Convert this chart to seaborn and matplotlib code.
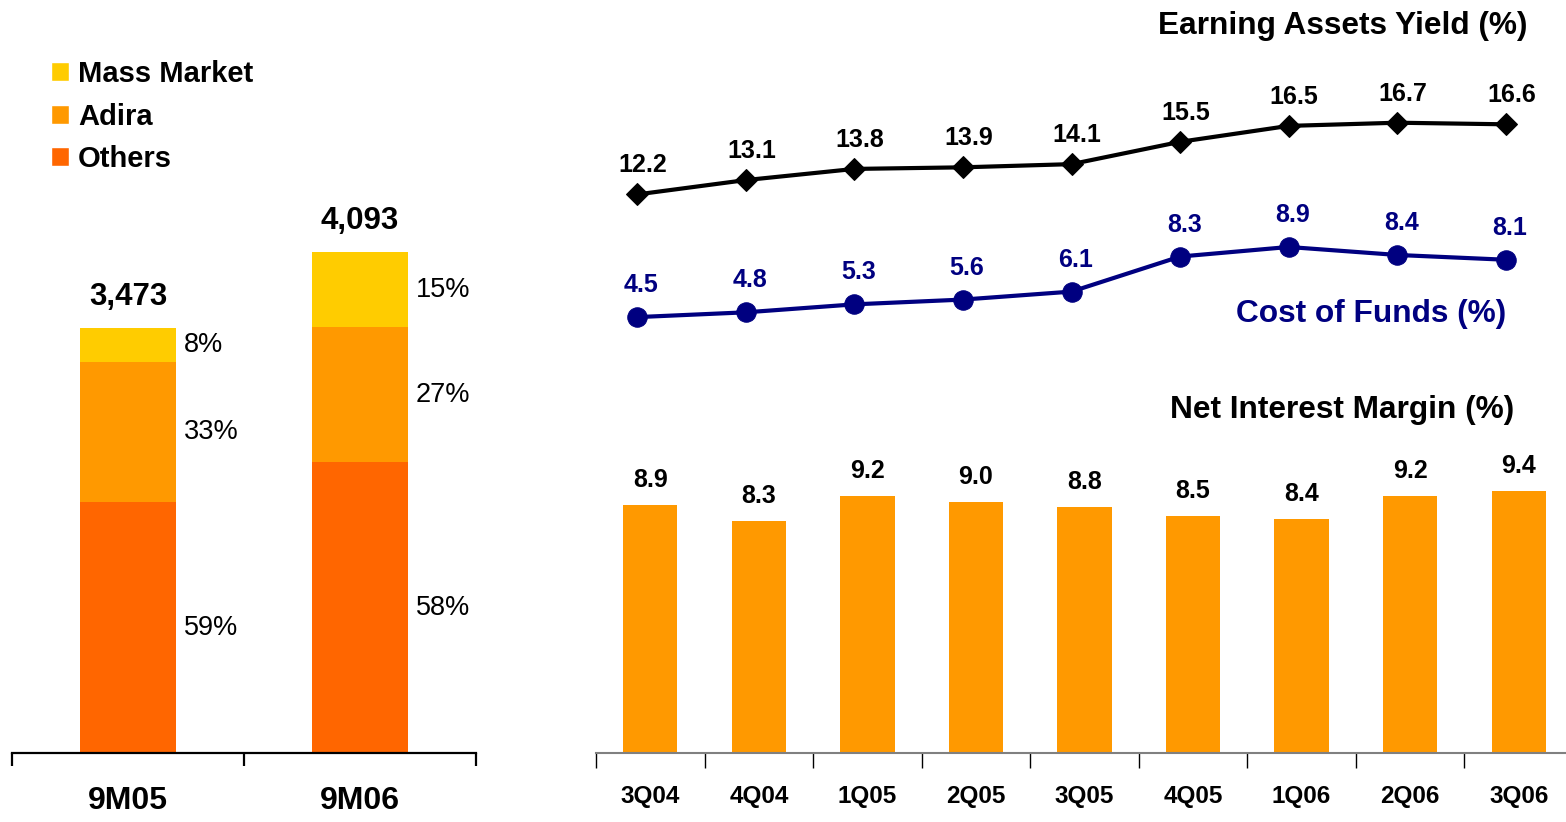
import matplotlib
matplotlib.use("Agg")
import matplotlib.pyplot as plt
import seaborn as sns
import pandas as pd
import numpy as np
from matplotlib.patches import Patch
from matplotlib.ticker import FixedLocator

# ---------------- data ----------------
periods = ["9M05", "9M06"]
totals = [3473, 4093]
share_others = [59, 58]
share_adira = [33, 27]
share_mass = [8, 15]

quarters = ["3Q04", "4Q04", "1Q05", "2Q05", "3Q05", "4Q05", "1Q06", "2Q06", "3Q06"]
earning_yield = [12.2, 13.1, 13.8, 13.9, 14.1, 15.5, 16.5, 16.7, 16.6]
cost_of_funds = [4.5, 4.8, 5.3, 5.6, 6.1, 8.3, 8.9, 8.4, 8.1]
nim = [8.9, 8.3, 9.2, 9.0, 8.8, 8.5, 8.4, 9.2, 9.4]

C_MASS = "#FFCC00"
C_ADIRA = "#FF9900"
C_OTHERS = "#FF6600"
C_NAVY = "#000080"

sns.set_style("white")
plt.rcParams["font.family"] = ["Liberation Sans", "DejaVu Sans"]
plt.rcParams["text.color"] = "black"
plt.rcParams["xtick.color"] = "black"
plt.rcParams["axes.labelcolor"] = "black"

W, H = 1566, 822
fig = plt.figure(figsize=(W / 100, H / 100), dpi=100)

def fpos(x0, y_bottom_px, w, h):
    return [x0 / W, (H - y_bottom_px) / H, w / W, h / H]

# ---------------- left stacked bars ----------------
ax_l = fig.add_axes(fpos(12, 753, 464, 612))
others_v = [t * s / 100 for t, s in zip(totals, share_others)]
adira_v = [t * s / 100 for t, s in zip(totals, share_adira)]
mass_v = [t * s / 100 for t, s in zip(totals, share_mass)]
cum_oa = [o + a for o, a in zip(others_v, adira_v)]
cum_all = [c + m for c, m in zip(cum_oa, mass_v)]

df_l = pd.DataFrame({"period": periods, "all": cum_all, "oa": cum_oa, "o": others_v})
for col, colr in [("all", C_MASS), ("oa", C_ADIRA), ("o", C_OTHERS)]:
    sns.barplot(data=df_l, x="period", y=col, color=colr, width=0.41,
                saturation=1, ax=ax_l, edgecolor="none")

ax_l.set_xlim(-0.5, 1.5)
ax_l.set_ylim(0, 5000)
ax_l.set_xlabel("")
ax_l.set_ylabel("")
ax_l.set_yticks([])
for s in ["top", "right", "left"]:
    ax_l.spines[s].set_visible(False)
ax_l.spines["bottom"].set_color("black")
ax_l.spines["bottom"].set_linewidth(1.6)
ax_l.tick_params(axis="x", which="major", length=0, pad=24)
ax_l.xaxis.set_minor_locator(FixedLocator([-0.5, 0.5, 1.5]))
ax_l.tick_params(axis="x", which="minor", bottom=True, length=9, width=1.6,
                 direction="out", color="black")
for lbl in ax_l.get_xticklabels():
    lbl.set_fontsize(23)
    lbl.set_fontweight("bold")

for i in range(len(periods)):
    ax_l.annotate(f"{totals[i]:,}", (i, cum_all[i]), xytext=(0, 22), textcoords="offset points",
                  ha="center", va="center", fontsize=22.5, fontweight="bold")
    segs = [(0, others_v[i], share_others[i]),
            (others_v[i], cum_oa[i], share_adira[i]),
            (cum_oa[i], cum_all[i], share_mass[i])]
    for lo, hi, sh in segs:
        ax_l.annotate(f"{sh}%", (i + 0.205, (lo + hi) / 2), xytext=(6, 0),
                      textcoords="offset points", ha="left", va="center", fontsize=19.5)

handles = [Patch(facecolor=C_MASS, label="Mass Market"),
           Patch(facecolor=C_ADIRA, label="Adira"),
           Patch(facecolor=C_OTHERS, label="Others")]
fig.legend(handles=handles, loc="upper left", bbox_to_anchor=(51 / W, 1 - 60 / H),
           frameon=False, prop={"size": 21, "weight": "bold"},
           handlelength=0.62, handleheight=0.62, handletextpad=0.3, labelspacing=0.5,
           borderaxespad=0, borderpad=0)

# ---------------- right line chart ----------------
ax_line = fig.add_axes(fpos(583, 341, 977, 239))
df_line = pd.DataFrame({"q": quarters, "eay": earning_yield, "cof": cost_of_funds})
sns.lineplot(data=df_line, x="q", y="eay", color="black", marker="D", markersize=11,
             linewidth=3, markeredgecolor="black", ax=ax_line, sort=False)
sns.lineplot(data=df_line, x="q", y="cof", color=C_NAVY, marker="o", markersize=14,
             linewidth=3, markeredgecolor=C_NAVY, ax=ax_line, sort=False)
ax_line.set_xlim(-0.5, 8.5)
ax_line.set_ylim(3, 18)
ax_line.axis("off")
for i in range(len(quarters)):
    ax_line.annotate(f"{earning_yield[i]:.1f}", (i, earning_yield[i]), xytext=(4, 21),
                     textcoords="offset points", ha="center", va="center",
                     fontsize=18, fontweight="bold", color="black")
    ax_line.annotate(f"{cost_of_funds[i]:.1f}", (i, cost_of_funds[i]), xytext=(3, 23),
                     textcoords="offset points", ha="center", va="center",
                     fontsize=18, fontweight="bold", color=C_NAVY)

fig.text(1528 / W, 1 - 26 / H, "Earning Assets Yield (%)", ha="right", va="center",
         fontsize=22.8, fontweight="bold", color="black")
fig.text(1506 / W, 1 - 314 / H, "Cost of Funds (%)", ha="right", va="center",
         fontsize=22.8, fontweight="bold", color=C_NAVY)
fig.text(1514 / W, 1 - 410 / H, "Net Interest Margin (%)", ha="right", va="center",
         fontsize=22.8, fontweight="bold", color="black")

# ---------------- right bar chart ----------------
ax_bar = fig.add_axes(fpos(596, 753, 977, 307))
df_nim = pd.DataFrame({"q": quarters, "nim": nim})
sns.barplot(data=df_nim, x="q", y="nim", color=C_ADIRA, saturation=1, width=0.5,
            ax=ax_bar, edgecolor="none")
ax_bar.set_xlim(-0.5, 8.5)
ax_bar.set_ylim(0, 11)
ax_bar.set_xlabel("")
ax_bar.set_ylabel("")
ax_bar.set_yticks([])
for s in ["top", "right", "left"]:
    ax_bar.spines[s].set_visible(False)
ax_bar.spines["bottom"].set_color("#808080")
ax_bar.spines["bottom"].set_linewidth(1.5)
ax_bar.tick_params(axis="x", which="major", length=0, pad=23)
ax_bar.xaxis.set_minor_locator(FixedLocator(np.arange(-0.5, 9, 1.0)))
ax_bar.tick_params(axis="x", which="minor", bottom=True, length=11, width=1.0,
                   direction="out", color="black")
for lbl in ax_bar.get_xticklabels():
    lbl.set_fontsize(17.5)
    lbl.set_fontweight("bold")
for i, v in enumerate(nim):
    ax_bar.annotate(f"{v:.1f}", (i, v), xytext=(0, 18), textcoords="offset points",
                    ha="center", va="center", fontsize=18, fontweight="bold")

fig.savefig("out.png", dpi=100)
